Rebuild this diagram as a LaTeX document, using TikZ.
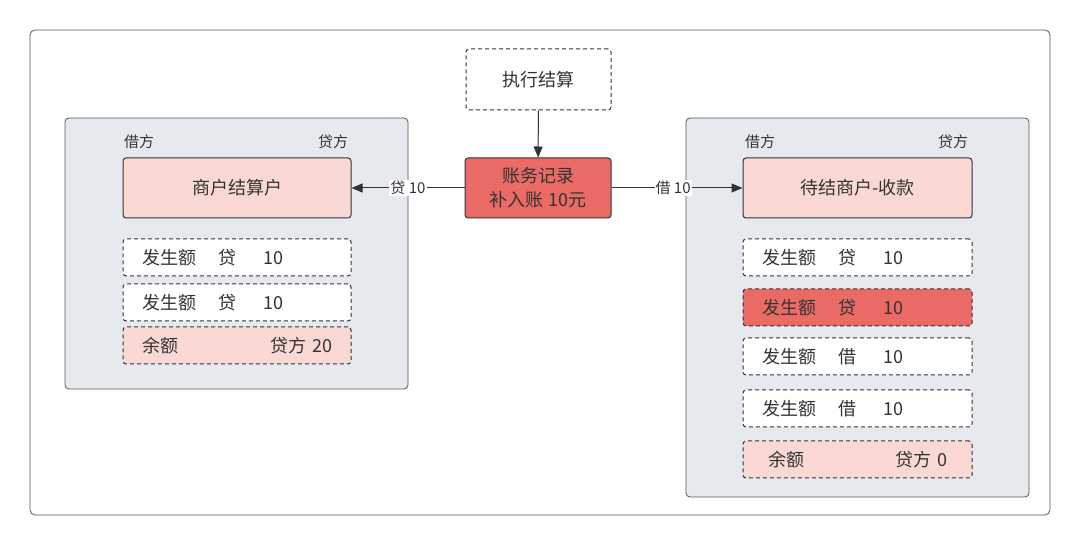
\documentclass[tikz,border=0pt]{standalone}
\usepackage{fontspec}
\newfontfamily\cjk{Noto Sans CJK SC}
\usetikzlibrary{arrows.meta}
\definecolor{redbox}{HTML}{EA6B66}
\definecolor{pinkbox}{HTML}{FAD9D5}
\definecolor{panelc}{HTML}{E6E9ED}
\definecolor{linec}{HTML}{333333}
\definecolor{framec}{HTML}{555555}
\newcommand{\amt}[2]{发生额\hspace{23pt}#1\hspace{27pt}#2}
\begin{document}
\begin{tikzpicture}[x=1pt,y=-1pt,
  box/.style={draw=linec,line width=1pt,rounded corners=3pt,minimum width=228pt,
    minimum height=60pt,inner sep=0pt,align=center,text=linec,
    font=\cjk\fontsize{18}{24}\selectfont},
  dbox/.style={box,dash pattern=on 4pt off 3pt},
  rowbox/.style={dbox,minimum height=37pt,inner xsep=19pt,text width=190pt,align=left},
  lab/.style={text=linec,font=\cjk\fontsize{15}{18}\selectfont,inner sep=1pt},
  arr/.style={draw=linec,line width=1pt,-{Triangle[length=11pt,width=9pt]}}]
\useasboundingbox (0,0) rectangle (1080,545);
\draw[framec,line width=0.8pt,rounded corners=5pt] (30,30) rectangle (1050,515);

% left and right account panels
\draw[fill=panelc,draw=framec,line width=0.8pt,rounded corners=4pt] (65,118) rectangle (408,389);
\draw[fill=panelc,draw=framec,line width=0.8pt,rounded corners=4pt] (686,118) rectangle (1029,497);

% top: settlement and bookkeeping
\node[dbox,fill=white,minimum width=145pt,minimum height=61pt] (settle) at (538.5,79.5) {执行结算};
\node[box,fill=redbox,minimum width=146pt] (record) at (538,188) {账务记录\\补入账 10元};

% left account
\node[lab] (ldebit) at (139,142) {借方};
\node[lab] (lcredit) at (333,142) {贷方};
\node[box,fill=pinkbox] (merch) at (237,188) {商户结算户};
\node[rowbox,fill=white] (lrow1) at (237,257.5) {\amt{贷}{10}};
\node[rowbox,fill=white] (lrow2) at (237,302.5) {\amt{贷}{10}};
\node[rowbox,fill=pinkbox] (lbal) at (237,345.5) {余额\hfill 贷方 20};

% right account
\node[lab] (rdebit) at (760,142) {借方};
\node[lab] (rcredit) at (953,142) {贷方};
\node[box,fill=pinkbox,minimum width=229pt] (pend) at (857.5,188) {待结商户-收款};
\node[rowbox,fill=white,text width=191pt] (rrow1) at (857.5,257.5) {\amt{贷}{10}};
\node[rowbox,fill=redbox,text width=191pt] (rrow2) at (857.5,307.5) {\amt{贷}{10}};
\node[rowbox,fill=white,text width=191pt] (rrow3) at (857.5,356.5) {\amt{借}{10}};
\node[rowbox,fill=white,text width=191pt] (rrow4) at (857.5,408.5) {\amt{借}{10}};
\node[rowbox,fill=pinkbox,inner xsep=25pt,text width=179pt] (rbal) at (857.5,459.5) {余额\hfill 贷方 0};

% connectors
\draw[arr] (settle) -- (record);
\draw[arr] (record) -- node[lab,fill=white] (lcr) {贷 10} (merch);
\draw[arr] (record) -- node[lab,fill=white,pos=0.47] (rdr) {借 10} (pend);
\end{tikzpicture}
\end{document}
